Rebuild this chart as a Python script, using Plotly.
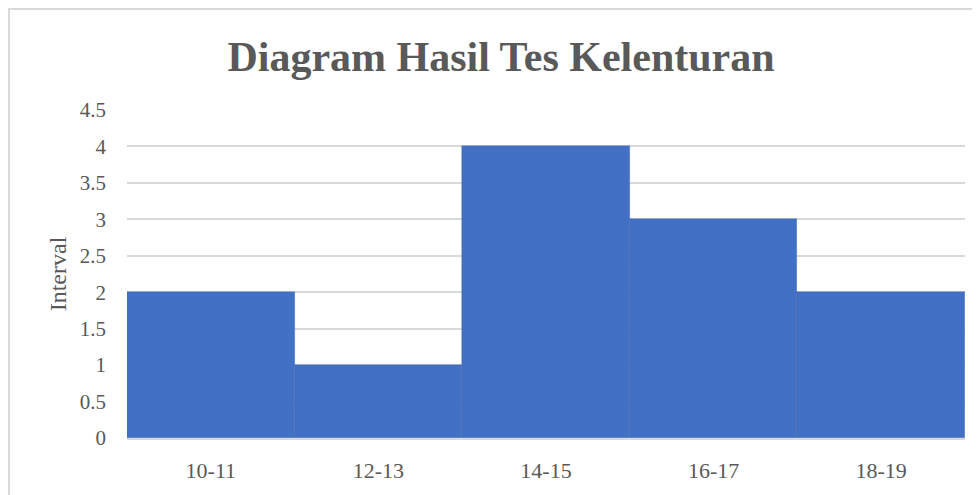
import plotly.graph_objects as go

categories = ["10-11", "12-13", "14-15", "16-17", "18-19"]
values = [2, 1, 4, 3, 2]
y_ticks = [0, 0.5, 1, 1.5, 2, 2.5, 3, 3.5, 4, 4.5]
y_tick_labels = ["0", "0.5", "1", "1.5", "2", "2.5", "3", "3.5", "4", "4.5"]

font_family = "Liberation Serif, Times New Roman, serif"
text_color = "#595959"

# page has an 8px body margin; figure coords = page coords - 8
L, R, T, B = 119, 23, 102, 65
plot_w = 980 - L - R
plot_h = 495 - T - B

fig = go.Figure(
    go.Bar(
        x=categories,
        y=values,
        marker=dict(color="#4270C5", line=dict(width=0.6, color="rgba(40,70,140,0.35)")),
        width=1.0,
    )
)

fig.update_layout(
    width=980,
    height=495,
    margin=dict(l=L, r=R, t=T, b=B),
    paper_bgcolor="white",
    plot_bgcolor="white",
    showlegend=False,
    bargap=0,
    title=dict(
        text="<b>Diagram Hasil Tes Kelenturan</b>",
        font=dict(family=font_family, size=42, color=text_color),
        x=493 / 980,
        xref="container",
        xanchor="center",
        y=1 - 48 / 495,
        yref="container",
        yanchor="middle",
    ),
    xaxis=dict(
        type="category",
        range=[-0.5, 4.5],
        showgrid=False,
        showline=True,
        linecolor="#D9D9D9",
        linewidth=1.5,
        ticks="",
        tickfont=dict(family=font_family, size=22, color=text_color),
        ticklabelstandoff=12,
    ),
    yaxis=dict(
        range=[0, 4.5],
        tickvals=y_ticks,
        ticktext=y_tick_labels,
        showgrid=True,
        gridcolor="#D9D9D9",
        gridwidth=1.5,
        zeroline=False,
        showline=False,
        ticks="",
        tickfont=dict(family=font_family, size=21, color=text_color),
        ticklabelstandoff=20,
        title=dict(
            text="Interval",
            font=dict(family=font_family, size=24, color=text_color),
            standoff=6,
        ),
    ),
    shapes=[
        dict(
            type="rect",
            xref="paper",
            yref="paper",
            x0=(1 - L) / plot_w,
            x1=1.1,
            y0=-0.5,
            y1=(plot_h + T - 1) / plot_h,
            line=dict(color="#D9D9D9", width=2),
            fillcolor="rgba(0,0,0,0)",
            layer="below",
        )
    ],
)

fig.write_html("out.html")
